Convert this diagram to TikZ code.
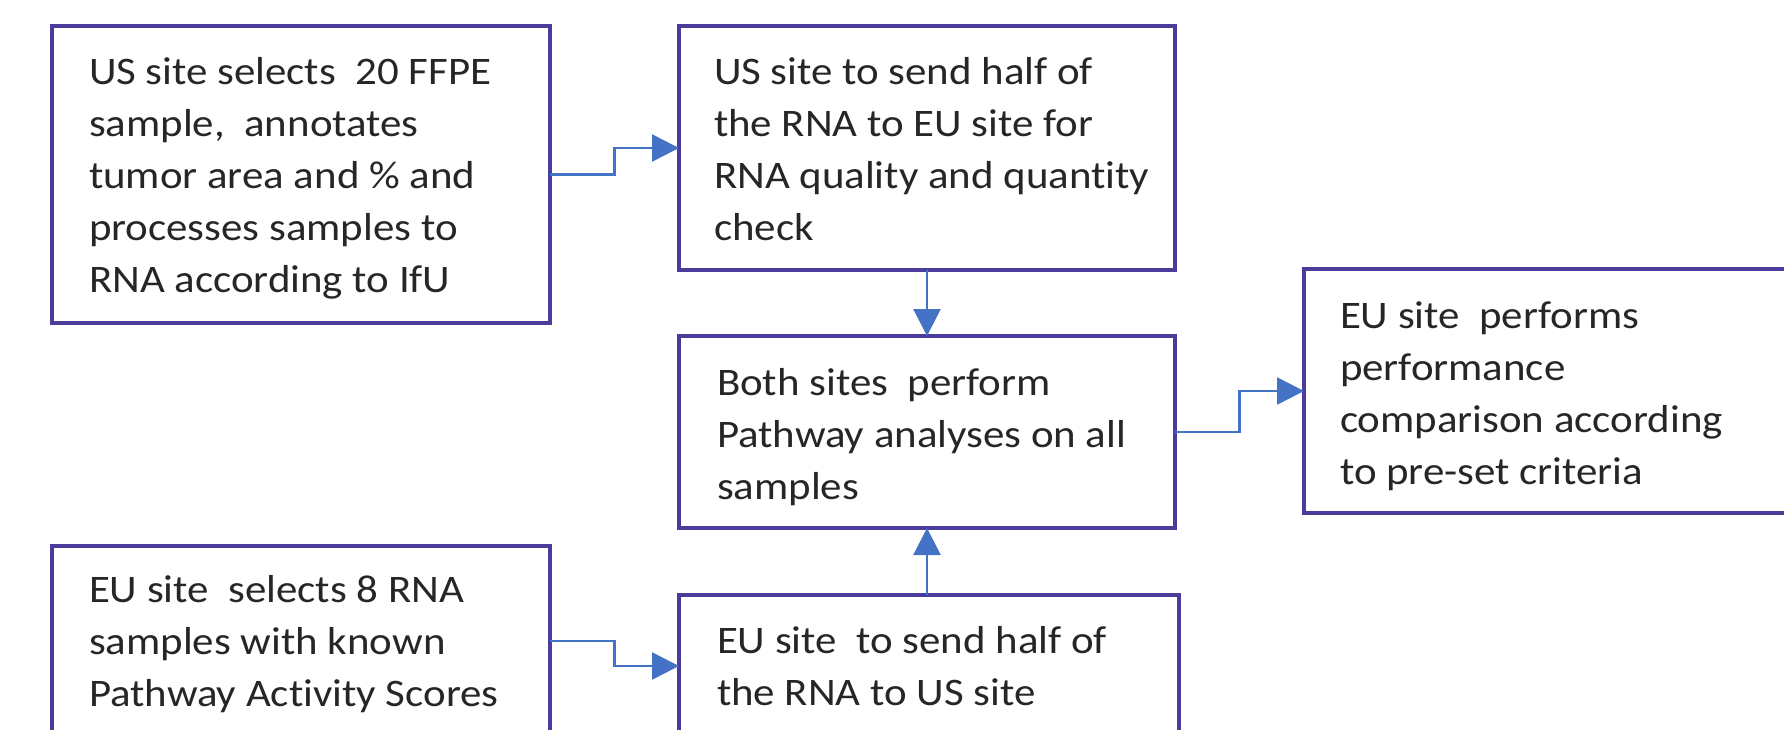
\documentclass[tikz,border=0pt]{standalone}
\usepackage{fontspec}
\setmainfont{Carlito}[FakeStretch=1.1, Ligatures=NoCommon]
\usetikzlibrary{arrows.meta,calc}
\definecolor{boxline}{HTML}{4B3B9B}
\definecolor{flow}{HTML}{4472C4}
\definecolor{ink}{HTML}{262626}
\tikzset{
  stepbox/.style={draw=boxline, line width=4pt, fill=none, rectangle,
    inner sep=0pt, outer sep=0pt},
  steptext/.style={anchor=base west, inner sep=0pt, outer sep=0pt,
    text=ink, font=\fontsize{39}{52}\selectfont},
  flowline/.style={draw=flow, line width=2.5pt,
    -{Triangle[length=27pt,width=27pt]}}
}
\newcommand{\boxlines}[1]{\parbox[t]{480pt}{\raggedright #1}}
\begin{document}
\begin{tikzpicture}[x=1pt,y=-1pt]
  \useasboundingbox (0,0) rectangle (1784,730);
  \clip (0,0) rectangle (1784,730);

  % process boxes
  \node[stepbox, minimum width=498pt, minimum height=297pt] (usSelect) at (301,174.5) {};
  \node[stepbox, minimum width=496pt, minimum height=244pt] (usSend) at (927,148) {};
  \node[stepbox, minimum width=496pt, minimum height=192pt] (both) at (927,432) {};
  \node[stepbox, minimum width=526pt, minimum height=244pt] (compare) at (1567,391) {};
  \node[stepbox, minimum width=498pt, minimum height=190pt] (euSelect) at (301,641) {};
  \node[stepbox, minimum width=500pt, minimum height=142pt] (euSend) at (929,666) {};

  % box texts
  \node[steptext] (tUsSelect) at (89,85) {\boxlines{US site selects~ 20 FFPE\\
    sample,~ annotates\\ tumor area and \% and\\ processes samples to\\
    RNA according to IfU}};
  \node[steptext] (tUsSend) at (714,85) {\boxlines{US site to send half of\\
    the RNA to EU site for\\ RNA quality and quantity\\ check}};
  \node[steptext] (tBoth) at (717,395) {\boxlines{Both sites~ perform\\
    Pathway analyses on all\\ samples}};
  \node[steptext] (tCompare) at (1340,328) {\boxlines{EU site~ performs\\
    performance\\ comparison according\\ to pre-set criteria}};
  \node[steptext] (tEuSelect) at (89,602) {\boxlines{EU site~ selects 8 RNA\\
    samples with known\\ Pathway Activity Scores}};
  \node[steptext] (tEuSend) at (717,653) {\boxlines{EU site~ to send half of\\
    the RNA to US site}};

  % connectors
  \draw[flowline] (usSelect.east) -| ($(usSelect.east)!.5!(usSend.west)$) |- (usSend.west);
  \draw[flowline] (usSend.south) -- (both.north);
  \draw[flowline] (euSend.north -| both.south) -- (both.south);
  \draw[flowline] (both.east) -| ($(both.east)!.5!(compare.west)$) |- (compare.west);
  \draw[flowline] (euSelect.east) -| ($(euSelect.east)!.5!(euSend.west)$) |- (euSend.west);
\end{tikzpicture}
\end{document}
